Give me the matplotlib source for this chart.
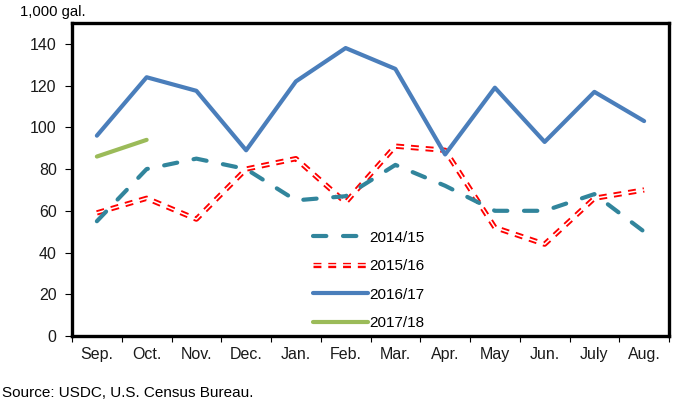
import numpy as np
import matplotlib
matplotlib.use('Agg')
import matplotlib.pyplot as plt
from matplotlib.legend_handler import HandlerTuple

plt.rcParams['font.family'] = ['Liberation Sans', 'DejaVu Sans']

months = ['Sep.', 'Oct.', 'Nov.', 'Dec.', 'Jan.', 'Feb.', 'Mar.', 'Apr.',
          'May', 'Jun.', 'July', 'Aug.']
y2014 = [55, 80, 85, 80, 65, 67, 82, 72, 60, 60, 68, 50]
y2015 = [59, 66, 56, 80, 85, 64, 91, 89, 52, 44, 66, 70]
y2016 = [96, 124, 117.5, 89, 122, 138, 128, 87, 119, 93, 117, 103]
y2017 = [86, 94]
yticks = [0, 20, 40, 60, 80, 100, 120, 140]

x = np.arange(len(months))

fig = plt.figure(figsize=(6.8, 4.16), dpi=100)
ax = fig.add_axes([72/680, 80/416, 597/680, 313/416])

l14, = ax.plot(x, y2014, color='#31859c', lw=3.0, linestyle=(0, (3.2, 4.0)),
               dash_capstyle='round', zorder=3)
r15, = ax.plot(x, y2015, color='#ff0000', lw=3.8, linestyle=(0, (1.5, 1.3)),
               zorder=2)
w15, = ax.plot(x, y2015, color='white', lw=1.1, zorder=2.1)
l16, = ax.plot(x, y2016, color='#4a7ebb', lw=3.0, solid_capstyle='round', zorder=4)
l17, = ax.plot(x[:len(y2017)], y2017, color='#9bbb59', lw=3.0,
               solid_capstyle='round', zorder=4)

ax.set_xlim(-0.5, len(months) - 0.5)
ax.set_ylim(0, 150)
ax.set_yticks(yticks)
ax.set_xticks(x)
ax.set_xticklabels(months)
ax.set_xticks(np.arange(-0.5, len(months)), minor=True)
ax.tick_params(axis='x', which='major', length=0, pad=8, labelsize=11.5, colors='#1a1a1a')
ax.tick_params(axis='x', which='minor', length=4, width=0.8, direction='out')
ax.tick_params(axis='y', length=5, width=0.8, pad=6, labelsize=11.5, colors='#1a1a1a')
ax.tick_params(axis='both', color='black')
for s in ax.spines.values():
    s.set_linewidth(2.4)

leg = ax.legend([l14, (r15, w15), l16, l17],
                ['2014/15', '2015/16', '2016/17', '2017/18'],
                handler_map={tuple: HandlerTuple(ndivide=1)},
                loc='upper left', bbox_to_anchor=(0.38, 0.38), frameon=False,
                fontsize=11, handlelength=3.6, labelspacing=0.95, handletextpad=0.1)

fig.text(20/680, 1 - 12/416, '1,000 gal.', fontsize=10.7, va='center', ha='left')
fig.text(2/680, 1 - 393/416, 'Source: USDC, U.S. Census Bureau.', fontsize=11,
         va='center', ha='left')

fig.savefig('out.png', dpi=100)
